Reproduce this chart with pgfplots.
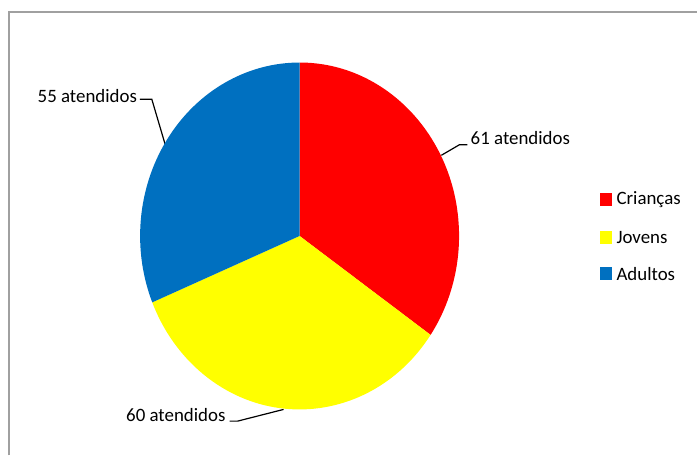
\documentclass[border=0pt]{standalone}
\usepackage{pgfplots}
\pgfplotsset{compat=1.18}
\usepackage{fontspec}
\setmainfont{Carlito}

\definecolor{cRed}{HTML}{FF0000}
\definecolor{cYellow}{HTML}{FFFF00}
\definecolor{cBlue}{HTML}{0070C0}
\definecolor{frameGray}{HTML}{A0A0A0}

% atendidos por grupo
\def\vA{61} % Crianças
\def\vB{60} % Jovens
\def\vC{55} % Adultos
\pgfmathsetmacro{\total}{\vA+\vB+\vC}
\pgfmathsetmacro{\aO}{90}
\pgfmathsetmacro{\aA}{\aO-\vA/\total*360}
\pgfmathsetmacro{\aB}{\aA-\vB/\total*360}
\pgfmathsetmacro{\aC}{\aB-\vC/\total*360}

\begin{document}
\begin{tikzpicture}
\begin{axis}[
	width=349pt, height=228pt,
	scale only axis,
	xmin=0, xmax=698,
	ymin=0, ymax=456,
	hide axis,
	clip=false,
	font=\fontsize{9.45}{11}\selectfont,
]
\path (axis cs:0,0) rectangle (axis cs:698,456);

% moldura
\addplot[frameGray, line width=1pt] coordinates {(9,0) (9,444) (698,444)};

% linhas de chamada
\addplot[black, line width=0.6pt] coordinates {(140,356.7) (152,356.7) (165.5,311)};
\addplot[black, line width=0.6pt] coordinates {(468,311) (460,311) (442,300.5)};
\addplot[black, line width=0.6pt] coordinates {(230,34.3) (238,34.3) (284,46)};

% setores
\fill[cRed] (axis cs:300,219.7) -- ++({79.85pt*cos(\aO)},{86.85pt*sin(\aO)})
	arc[start angle=\aO, end angle=\aA, x radius=79.85pt, y radius=86.85pt] -- cycle;
\fill[cYellow] (axis cs:300,219.7) -- ++({79.85pt*cos(\aA)},{86.85pt*sin(\aA)})
	arc[start angle=\aA, end angle=\aB, x radius=79.85pt, y radius=86.85pt] -- cycle;
\fill[cBlue] (axis cs:300,219.7) -- ++({79.85pt*cos(\aB)},{86.85pt*sin(\aB)})
	arc[start angle=\aB, end angle=\aC, x radius=79.85pt, y radius=86.85pt] -- cycle;

% rótulos
\node[anchor=base east, inner sep=0pt] at (axis cs:137.5,353) {55 atendidos};
\node[anchor=base west, inner sep=0pt] at (axis cs:471,311) {61 atendidos};
\node[anchor=base west, inner sep=0pt] at (axis cs:126,33.7) {60 atendidos};

% legenda
\fill[cRed] (axis cs:601,250) rectangle (axis cs:613,263);
\fill[cYellow] (axis cs:601,212) rectangle (axis cs:613,225);
\fill[cBlue] (axis cs:601,176) rectangle (axis cs:613,189);
\node[anchor=west, inner sep=0pt] at (axis cs:617,256) {Crianças};
\node[anchor=west, inner sep=0pt] at (axis cs:617,218) {Jovens};
\node[anchor=west, inner sep=0pt] at (axis cs:617,182) {Adultos};
\end{axis}
\end{tikzpicture}
\end{document}
